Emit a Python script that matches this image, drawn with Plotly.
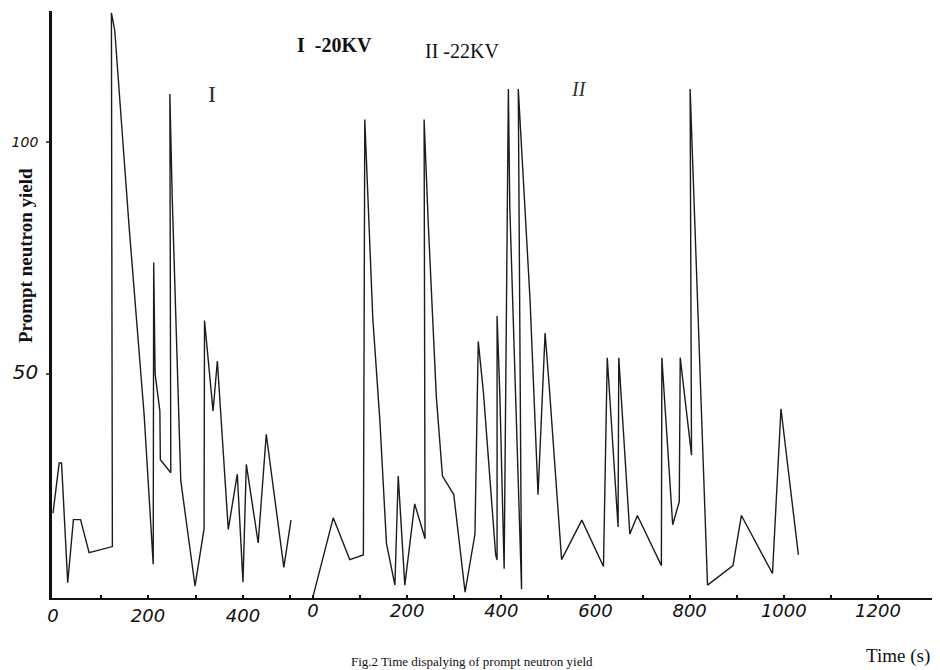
import plotly.graph_objects as go

# Series I (20 kV): time (s) and prompt neutron yield
t1 = [0, 13, 18, 31, 43, 58, 76, 125, 123, 130, 150, 160, 192, 211, 212, 215, 225, 226, 248, 246,
      251, 269, 299, 318, 319, 337, 346, 369, 388, 400, 407, 432, 449, 486, 501]
n1 = [20, 30.8, 30.8, 5, 18.6, 18.6, 11.5, 12.8, 127.8, 124, 96, 82, 41, 9, 74, 50, 42, 31.5, 28.7, 110.3,
      88, 27, 4.3, 16.6, 61.5, 42, 52.8, 16.5, 28.4, 5.1, 30.5, 13.6, 37, 8.3, 18.5]

# Series II (22 kV)
t2 = [0, 43, 78, 107, 110, 117, 127, 142, 156, 174, 181, 195, 216, 238, 236, 245, 262, 275, 299, 323,
      344, 351, 362, 388, 391, 391, 397, 406, 415, 418, 443, 436, 461, 478, 493, 502, 528, 571, 617, 625,
      648, 649.5, 673, 689, 740, 741, 764, 778, 780, 804, 801, 838, 892, 910, 976, 994, 1031]
n2 = [2, 19, 10, 11, 104.8, 86, 62, 40, 13.5, 4.5, 28, 4.5, 22, 14.5, 104.8, 82, 45, 28, 24, 3,
      15.5, 57, 46, 11, 9.9, 62.5, 45, 8, 111.4, 86, 3.6, 111.4, 66, 24, 58.8, 47, 10, 18.5, 8.5, 53.5,
      17, 53.5, 15.5, 19.5, 8.7, 53.5, 17.5, 22.5, 53.5, 32.5, 111.4, 4.5, 8.7, 19.5, 7, 42.5, 11]

x1_ticks = [0, 100, 200, 300, 400, 500]
x1_labels = ['0', '', '200', '', '400', '']
x2_ticks = [0, 100, 200, 300, 400, 500, 600, 700, 800, 900, 1000, 1100, 1200]
x2_labels = ['0', '', '200', '', '400', '', '600', '', '800', '', '1000', '', '1200']
y_ticks = [50, 100]
y_labels = ['<span style="font-size:20px">50</span>', '100']

# the page body has an 8px margin, so the figure is laid out 8px in from the window edge
OFF = 8
W, H = 940 - OFF, 670 - OFF
L, R, T, B = 52 - OFF, 0, 11 - OFF, 72
PW, PH = W - L - R, H - T - B


def px(x):
    return (x - OFF - L) / PW


def py(y):
    return (H - B - (y - OFF)) / PH


line_col = '#1c1c1c'
tickfont = dict(family='DejaVu Sans', size=18, style='italic', color='#111')

fig = go.Figure()
fig.add_trace(go.Scatter(x=t1, y=n1, mode='lines', xaxis='x', yaxis='y',
                         line=dict(color=line_col, width=1.4), name='I-20KV'))
fig.add_trace(go.Scatter(x=t2, y=n2, mode='lines', xaxis='x2', yaxis='y',
                         line=dict(color=line_col, width=1.4), name='II-22KV'))

fig.update_layout(
    width=W, height=H,
    margin=dict(l=L, r=R, t=T, b=B, pad=0, autoexpand=False),
    paper_bgcolor='white', plot_bgcolor='white',
    showlegend=False,
    xaxis=dict(range=[-2.1, 1867.4], tickmode='array', tickvals=x1_ticks, ticktext=x1_labels,
               ticks='inside', ticklen=3, tickwidth=1.5, tickcolor='#111',
               showline=True, linecolor='#111', linewidth=1.8, automargin=False,
               showgrid=False, zeroline=False, tickfont=tickfont, ticklabelstandoff=0),
    xaxis2=dict(range=[-554.4, 1331.8], overlaying='x', side='bottom', anchor='y',
                tickmode='array', tickvals=x2_ticks, ticktext=x2_labels,
                ticks='inside', ticklen=3, tickwidth=1.5, tickcolor='#111', automargin=False,
                showline=False, showgrid=False, zeroline=False, tickfont=tickfont,
                ticklabelstandoff=0),
    yaxis=dict(range=[1.72, 128.2], tickmode='array', tickvals=y_ticks, ticktext=y_labels,
               ticks='outside', ticklen=3, tickwidth=1.5, tickcolor='#555', automargin=False,
               showline=True, linecolor='#111', linewidth=2.8,
               showgrid=False, zeroline=False,
               tickfont=dict(family='DejaVu Sans', size=14, style='italic', color='#111'),
               ticklabelstandoff=5),
)

serif = 'Liberation Serif'
annots = [
    dict(text='<b>I  -20KV</b>', x=px(334), y=py(45), size=20, family=serif, color='#111'),
    dict(text='II -22KV', x=px(462), y=py(51), size=20, family=serif, color='#111'),
    dict(text='I', x=px(212), y=py(94), size=24, family=serif, color='#333'),
    dict(text='<i>II</i>', x=px(579), y=py(89), size=20, family=serif, color='#333'),
    dict(text='Time (s)', x=px(898), y=py(656), size=19, family=serif, color='#111'),
    dict(text='Fig.2 Time dispalying of prompt neutron yield', x=px(472), y=py(661),
         size=13, family=serif, color='#111'),
    dict(text='<b>Prompt neutron yield</b>', x=px(25), y=py(256), size=19, family=serif,
         color='#111', angle=-90),
]
for a in annots:
    fig.add_annotation(text=a['text'], xref='paper', yref='paper', x=a['x'], y=a['y'],
                       showarrow=False, xanchor='center', yanchor='middle',
                       textangle=a.get('angle', 0),
                       font=dict(family=a['family'], size=a['size'], color=a['color']))

fig.write_html('out.html')
